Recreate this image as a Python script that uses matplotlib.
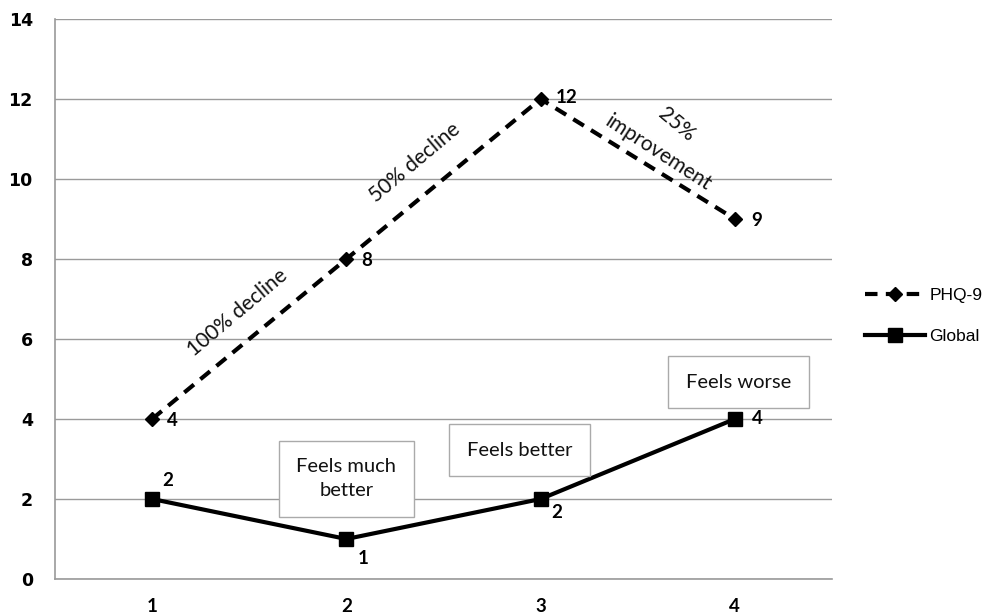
import matplotlib
matplotlib.use("Agg")
import matplotlib.pyplot as plt

visits = [1, 2, 3, 4]
phq9 = [4, 8, 12, 9]
global_scores = [2, 1, 2, 4]
y_ticks = [0, 2, 4, 6, 8, 10, 12, 14]

fig = plt.figure(figsize=(9.85, 6.15), dpi=100)
ax = fig.add_axes([55/985, 36/615, 777/985, 560/615])

ax.set_xlim(0.5, 4.5)
ax.set_ylim(0, 14)
ax.set_yticks(y_ticks)
ax.set_xticks(visits)
ax.set_xticklabels([str(v) for v in visits], fontfamily="Lato", fontweight="bold", fontsize=13.5)
for lab in ax.get_yticklabels():
    lab.set_fontfamily("DejaVu Sans")
    lab.set_fontweight("bold")
    lab.set_fontsize(12.5)
ax.tick_params(axis="both", length=0)
ax.tick_params(axis="y", pad=16)
ax.tick_params(axis="x", pad=14)
ax.grid(axis="y", color="#9a9a9a", linewidth=1)
ax.set_axisbelow(True)
for s in ["top", "right"]:
    ax.spines[s].set_visible(False)
for s in ["left", "bottom"]:
    ax.spines[s].set_color("#9a9a9a")
    ax.spines[s].set_linewidth(1.2)

l1, = ax.plot(visits, phq9, linestyle=(0, (3, 2)), color="black", linewidth=3,
              marker="D", markersize=7.5, label="PHQ-9")
l2, = ax.plot(visits, global_scores, linestyle="-", color="black", linewidth=3,
              marker="s", markersize=10, label="Global")

lab_font = dict(fontfamily="Lato", fontweight="bold", fontsize=13.5, color="black")
p_offsets = [(11, -1), (11, -1), (11, 1), (12, -1)]
for (x, y), off in zip(zip(visits, phq9), p_offsets):
    ax.annotate(str(y), (x, y), xytext=off, textcoords="offset points",
                ha="left", va="center", **lab_font)
g_offsets = [(7, 13), (8, -14), (8, -10), (12, 0)]
for (x, y), off in zip(zip(visits, global_scores), g_offsets):
    ax.annotate(str(y), (x, y), xytext=off, textcoords="offset points",
                ha="left", va="center", **lab_font)

txt_font = dict(fontfamily="Lato", fontsize=14.5, color="#111111")
rot_font = dict(fontfamily="Lato", fontsize=15, color="#111111")
ax.text(1.44, 6.67, "100% decline", rotation=40, ha="center", va="center", **rot_font)
ax.text(2.35, 10.4, "50% decline", rotation=40, ha="center", va="center", **rot_font)
ax.text(3.70, 11.35, "25%", rotation=-40, ha="center", va="center", **rot_font)
ax.text(3.61, 10.65, "improvement", rotation=-33, ha="center", va="center", **rot_font)

box = dict(boxstyle="square,pad=0.88", facecolor="white", edgecolor="#aaaaaa", linewidth=1)
ax.text(2.0, 2.5, "Feels much\nbetter", ha="center", va="center", linespacing=1.5,
        bbox=box, **txt_font)
ax.text(2.89, 3.22, "Feels better", ha="center", va="center", bbox=box, **txt_font)
ax.text(4.02, 4.92, "Feels worse", ha="center", va="center", bbox=box, **txt_font)

leg = fig.legend(handles=[l1, l2], loc="center left", bbox_to_anchor=(865/985, 1 - 316/615),
                 frameon=False, borderpad=0, borderaxespad=0, handlelength=3.45,
                 handletextpad=0.25, labelspacing=1.5,
                 prop={"family": "Liberation Sans", "size": 12.5})

fig.savefig("out.png", dpi=100)
